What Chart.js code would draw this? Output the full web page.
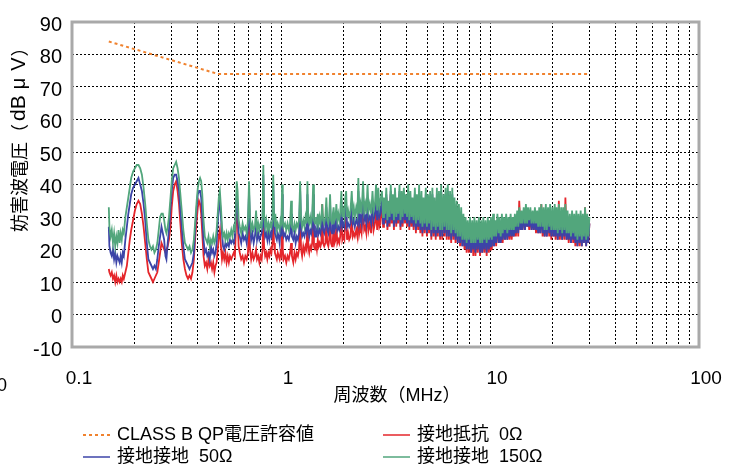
<!DOCTYPE html>
<html>
<head>
<meta charset="utf-8">
<script src="https://cdn.jsdelivr.net/npm/chart.js@4.4.1/dist/chart.umd.min.js"></script>
<style>
  html, body { margin: 0; padding: 0; background: #fff; }
  #noiseChart { display: block; }
</style>
</head>
<body>
<canvas id="noiseChart" width="739" height="464"></canvas>
<script>
// frequency grid (MHz) shared by the three measured curves
const freqMHz = [
  0.150, 0.151, 0.153, 0.155, 0.157, 0.159, 0.161, 0.163, 0.165, 0.167,
  0.169, 0.171, 0.173, 0.175, 0.177, 0.180, 0.183, 0.186, 0.189, 0.192,
  0.196, 0.200, 0.204, 0.208, 0.212, 0.216, 0.220, 0.224, 0.228, 0.232,
  0.236, 0.240, 0.244, 0.248, 0.252, 0.256, 0.260, 0.264, 0.268, 0.272,
  0.276, 0.280, 0.283, 0.287, 0.291, 0.296, 0.300, 0.305, 0.310, 0.315,
  0.320, 0.325, 0.330, 0.335, 0.341, 0.347, 0.353, 0.359, 0.365, 0.371,
  0.377, 0.383, 0.389, 0.395, 0.400, 0.405, 0.410, 0.415, 0.420, 0.426,
  0.432, 0.438, 0.444, 0.450, 0.456, 0.462, 0.468, 0.474, 0.480, 0.486,
  0.492, 0.498, 0.504, 0.510, 0.516, 0.522, 0.528, 0.535, 0.542, 0.549,
  0.556, 0.563, 0.570, 0.578, 0.586, 0.594, 0.602, 0.608, 0.614, 0.620,
  0.627,
  0.635, 0.645, 0.655, 0.665, 0.675, 0.685, 0.695, 0.703, 0.711, 0.720,
  0.730, 0.740, 0.750, 0.760, 0.768, 0.778, 0.788, 0.798, 0.808, 0.816,
  0.823, 0.830, 0.840, 0.850, 0.860, 0.870, 0.880, 0.890, 0.900, 0.910,
  0.918, 0.926, 0.935, 0.945, 0.955, 0.965, 0.975, 0.985, 0.995, 1.005,
  1.012, 1.020, 1.030, 1.045, 1.060, 1.075, 1.090, 1.105, 1.118, 1.128,
  1.145, 1.160, 1.175, 1.190, 1.205, 1.220, 1.235, 1.248, 1.262, 1.278,
  1.295, 1.310, 1.325, 1.338, 1.350, 1.365, 1.380, 1.395, 1.410, 1.425,
  1.438, 1.455, 1.470, 1.485, 1.500, 1.515, 1.530, 1.545, 1.560, 1.575,
  1.590, 1.610, 1.630, 1.648, 1.665, 1.685, 1.700, 1.717, 1.735, 1.755,
  1.770, 1.785, 1.805, 1.825, 1.840, 1.860, 1.880, 1.900, 1.920, 1.945,
  1.965, 1.985, 2.010, 2.030, 2.050, 2.070, 2.095, 2.120, 2.150, 2.180,
  2.205, 2.230, 2.255, 2.290, 2.320, 2.345, 2.370, 2.400, 2.430, 2.470,
  2.500, 2.530, 2.560, 2.595, 2.625, 2.660, 2.700, 2.740, 2.775, 2.815,
  2.850, 2.885, 2.920, 2.955, 2.990,
  3.04, 3.08, 3.11, 3.15, 3.19, 3.23, 3.27, 3.31, 3.35, 3.39,
  3.43, 3.47, 3.51, 3.56, 3.60, 3.64, 3.69, 3.73, 3.78, 3.82,
  3.87, 3.92, 3.96, 4.01, 4.06, 4.11, 4.16, 4.21, 4.26, 4.31,
  4.37, 4.42, 4.47, 4.53, 4.58, 4.64, 4.70, 4.75, 4.81, 4.87,
  4.93, 4.99, 5.05, 5.11, 5.17, 5.24, 5.30, 5.37, 5.43, 5.50,
  5.57, 5.63, 5.70, 5.77, 5.84, 5.91, 5.99, 6.06, 6.13, 6.21,
  6.28, 6.36, 6.44, 6.52, 6.60, 6.68, 6.76, 6.84, 6.93, 7.01,
  7.10, 7.19, 7.28, 7.37, 7.46, 7.55, 7.64, 7.73, 7.82, 7.92,
  8.02, 8.12, 8.22, 8.32, 8.42, 8.52, 8.63, 8.74, 8.85, 8.96,
  9.07, 9.18, 9.29, 9.40, 9.52, 9.64, 9.76, 9.88, 9.97, 10.05,
  10.1, 10.2, 10.35, 10.45, 10.6, 10.7, 10.85, 11.0, 11.1, 11.25,
  11.4, 11.5, 11.65, 11.8, 11.95, 12.1, 12.25, 12.4, 12.55, 12.7,
  12.85, 13.0, 13.15, 13.3, 13.5, 13.65, 13.8, 14.0, 14.15, 14.3,
  14.5, 14.7, 14.85, 15.05, 15.2, 15.4, 15.6, 15.8, 16.0, 16.2,
  16.4, 16.6, 16.8, 17.0, 17.2, 17.4, 17.6, 17.85, 18.05, 18.25,
  18.5, 18.7, 18.95, 19.2, 19.4, 19.65, 19.9, 20.15, 20.4, 20.6,
  20.85, 21.1, 21.35, 21.6, 21.9, 22.15, 22.4, 22.7, 22.95, 23.25,
  23.5, 23.8, 24.1, 24.4, 24.7, 25.0, 25.3, 25.6, 25.9, 26.2,
  26.5, 26.85, 27.15, 27.5, 27.8, 28.15, 28.5, 28.85, 29.2, 29.55,
  29.9
];

// 接地抵抗 0Ω (red)
const gnd0 = [
  14, 13, 12, 13, 11, 12, 10, 12, 10, 11,
  10, 11, 10, 12, 11, 13, 15, 19, 23, 26,
  29, 32, 34, 35, 34, 31, 27, 22, 17, 13,
  12, 11, 10, 11, 12, 13, 16, 19, 22, 21,
  20, 19, 20, 21, 23, 27, 33, 38, 40, 41,
  38, 34, 28, 22, 17, 14, 12, 11, 12, 11,
  13, 17, 24, 29, 33, 35, 34, 31, 25, 18,
  15, 16, 14, 17, 15, 16, 14, 16, 13, 15,
  16, 20, 24, 26, 21, 17, 19, 17, 19, 16,
  18, 16, 18, 17, 18, 19, 18, 26, 35, 30,
  21,
  19, 17, 18, 16, 18, 17, 19, 28, 20, 17,
  19, 17, 18, 20, 17, 18, 16, 18, 17, 20,
  32, 21, 18, 19, 17, 19, 18, 20, 19, 22,
  30, 22, 19, 18, 17, 19, 18, 17, 19, 18,
  28, 20, 17, 18, 16, 18, 17, 19, 22, 18,
  16, 19, 17, 19, 18, 20, 30, 20, 18, 21,
  19, 21, 20, 31, 21, 19, 21, 20, 22, 32,
  21, 20, 22, 20, 23, 21, 22, 21, 22, 34,
  22, 21, 22, 28, 22, 21, 23, 30, 22, 21,
  23, 27, 22, 23, 28, 22, 23, 22, 24, 31,
  23, 24, 23, 30, 31, 23, 25, 23, 24, 31,
  24, 25, 24, 26, 24, 33, 25, 27, 25, 33,
  26, 27, 25, 33, 26, 28, 25, 32, 26, 28,
  33, 26, 32, 27, 28,
  35, 27, 33, 28, 36, 26, 32, 27, 37, 28,
  34, 26, 36, 27, 33, 28, 37, 26, 35, 27,
  36, 28, 34, 27, 37, 26, 35, 27, 33, 26,
  36, 25, 34, 26, 37, 25, 35, 24, 33, 25,
  36, 24, 34, 25, 35, 23, 36, 24, 33, 23,
  36, 24, 35, 23, 37, 23, 34, 24, 36, 23,
  37, 23, 35, 22, 36, 23, 33, 22, 32, 22,
  31, 21, 30, 21, 28, 20, 27, 19, 26, 19,
  27, 19, 26, 18, 27, 18, 26, 19, 27, 18,
  26, 19, 27, 19, 26, 18, 27, 19, 26, 20,
  28, 20, 28, 21, 27, 21, 28, 22, 28, 22,
  28, 22, 28, 23, 29, 23, 28, 23, 29, 23,
  28, 24, 29, 24, 30, 24, 35, 26, 30, 26,
  31, 26, 31, 27, 31, 26, 31, 26, 30, 26,
  31, 25, 30, 25, 31, 25, 34, 24, 31, 24,
  31, 24, 31, 24, 32, 23, 31, 24, 31, 23,
  31, 23, 35, 23, 30, 23, 31, 23, 36, 23,
  30, 22, 29, 22, 30, 22, 29, 21, 30, 21,
  29, 21, 30, 21, 29, 22, 33, 21, 29, 22,
  28
];

// 接地接地 50Ω (blue)
const gnd50 = [
  27, 21, 19, 18, 20, 17, 19, 16, 18, 17,
  16, 18, 16, 19, 18, 23, 27, 31, 34, 37,
  39, 40, 41, 42, 40, 38, 34, 29, 22, 17,
  16, 15, 14, 15, 14, 17, 21, 24, 27, 25,
  23, 18, 17, 22, 26, 33, 38, 42, 43, 43,
  41, 38, 32, 27, 21, 17, 16, 15, 14, 15,
  16, 19, 27, 33, 37, 38, 38, 36, 30, 23,
  19, 20, 18, 19, 17, 21, 19, 20, 18, 19,
  22, 28, 33, 35, 30, 25, 21, 20, 22, 21,
  22, 21, 23, 22, 23, 22, 24, 30, 37, 34,
  25,
  24, 22, 25, 23, 24, 22, 26, 38, 27, 23,
  25, 22, 24, 28, 23, 25, 23, 24, 25, 27,
  43, 28, 24, 25, 23, 26, 23, 25, 24, 27,
  40, 28, 25, 24, 23, 25, 24, 22, 26, 24,
  37, 26, 24, 25, 23, 24, 23, 25, 31, 24,
  23, 25, 22, 24, 23, 25, 38, 26, 24, 25,
  24, 26, 25, 37, 26, 24, 26, 25, 27, 37,
  26, 24, 26, 25, 28, 25, 26, 25, 27, 31,
  26, 25, 27, 33, 26, 25, 27, 34, 26, 25,
  27, 30, 26, 27, 31, 26, 27, 26, 27, 35,
  27, 28, 27, 33, 34, 27, 28, 27, 28, 34,
  28, 29, 27, 29, 28, 38, 28, 30, 28, 37,
  29, 30, 28, 36, 29, 30, 28, 35, 29, 31,
  36, 29, 35, 30, 31,
  36, 28, 34, 29, 37, 27, 33, 28, 38, 29,
  35, 27, 37, 28, 34, 29, 38, 27, 36, 28,
  37, 29, 35, 28, 38, 27, 36, 28, 34, 27,
  37, 26, 35, 27, 38, 26, 36, 25, 34, 26,
  37, 25, 35, 26, 36, 24, 37, 25, 34, 24,
  37, 25, 36, 24, 38, 24, 35, 25, 37, 24,
  38, 24, 36, 23, 37, 24, 34, 23, 33, 22,
  32, 22, 31, 21, 29, 21, 28, 20, 27, 20,
  28, 19, 27, 20, 28, 19, 27, 20, 28, 19,
  27, 19, 28, 20, 27, 19, 28, 20, 27, 21,
  28, 21, 29, 21, 27, 22, 29, 22, 28, 22,
  29, 23, 28, 23, 29, 23, 28, 24, 29, 24,
  28, 24, 29, 25, 30, 25, 31, 26, 30, 26,
  31, 26, 32, 27, 31, 27, 31, 26, 30, 26,
  31, 26, 30, 25, 31, 25, 32, 25, 31, 24,
  32, 24, 31, 25, 32, 24, 31, 24, 32, 24,
  31, 23, 32, 24, 31, 23, 31, 24, 32, 23,
  30, 23, 29, 22, 30, 23, 29, 22, 30, 21,
  29, 22, 30, 21, 29, 22, 31, 21, 29, 22,
  28
];

// 接地接地 150Ω (green)
const gnd150 = [
  33, 27, 24, 26, 22, 25, 21, 24, 22, 26,
  22, 25, 23, 26, 25, 30, 33, 36, 39, 42,
  44, 45, 46, 46, 45, 43, 39, 34, 28, 23,
  21, 20, 21, 19, 20, 22, 26, 30, 31, 31,
  29, 26, 25, 27, 30, 36, 41, 45, 46, 47,
  45, 42, 37, 32, 26, 22, 21, 20, 21, 19,
  20, 23, 29, 35, 39, 41, 42, 41, 37, 29,
  24, 23, 22, 24, 21, 23, 22, 24, 22, 23,
  26, 31, 36, 38, 33, 27, 24, 25, 23, 25,
  23, 25, 24, 26, 24, 27, 26, 33, 41, 38,
  29,
  27, 25, 28, 26, 27, 25, 29, 41, 30, 26,
  28, 26, 27, 32, 26, 28, 26, 28, 27, 30,
  46, 31, 27, 29, 26, 28, 26, 28, 27, 29,
  43, 31, 27, 29, 26, 28, 27, 26, 29, 28,
  40, 29, 27, 28, 26, 28, 26, 28, 35, 27,
  26, 28, 26, 28, 27, 29, 41, 29, 27, 29,
  27, 30, 28, 41, 29, 28, 30, 28, 30, 40,
  29, 28, 30, 28, 31, 28, 30, 28, 30, 34,
  29, 28, 30, 36, 29, 28, 30, 37, 29, 28,
  31, 33, 29, 30, 34, 29, 31, 29, 31, 38,
  30, 32, 30, 36, 38, 30, 32, 30, 32, 38,
  31, 33, 30, 33, 31, 42, 31, 34, 31, 41,
  32, 34, 31, 40, 32, 34, 31, 38, 32, 34,
  40, 32, 39, 33, 35,
  38, 30, 36, 31, 39, 29, 35, 30, 40, 31,
  37, 29, 39, 30, 36, 31, 40, 29, 38, 30,
  39, 31, 37, 30, 40, 29, 38, 30, 36, 29,
  39, 28, 37, 29, 40, 28, 38, 27, 36, 28,
  39, 27, 37, 28, 38, 26, 39, 27, 36, 26,
  39, 27, 38, 26, 40, 26, 37, 27, 39, 26,
  40, 26, 38, 25, 39, 26, 36, 25, 35, 24,
  34, 24, 33, 23, 31, 23, 30, 22, 29, 23,
  30, 22, 29, 22, 30, 22, 29, 23, 30, 22,
  29, 22, 30, 23, 29, 22, 30, 23, 29, 24,
  30, 23, 31, 24, 29, 24, 31, 25, 30, 24,
  31, 25, 30, 26, 31, 25, 30, 26, 31, 26,
  30, 26, 31, 27, 32, 27, 33, 28, 32, 28,
  33, 28, 34, 28, 33, 29, 33, 28, 32, 28,
  33, 28, 32, 27, 33, 27, 34, 27, 33, 26,
  34, 26, 33, 27, 34, 26, 33, 26, 34, 26,
  33, 25, 34, 26, 33, 25, 33, 26, 34, 25,
  32, 25, 31, 24, 32, 25, 31, 24, 32, 23,
  31, 24, 32, 23, 31, 24, 33, 23, 31, 24,
  30
];

// CLASS B QP limit
const limitFreq = [0.15, 0.5, 30];
const limitQP = [84, 74, 74];

const xTickLabels = [0.1, 1, 10, 100];
const yMin = -10, yMax = 90, yStep = 10;

const FONT = '"Liberation Sans", "Noto Sans CJK JP", sans-serif';
const CJK = '"Noto Sans CJK JP", "Liberation Sans", sans-serif';

function pts(xs, ys) {
  return xs.map((x, i) => ({ x: x, y: ys[i] }));
}

// grid lines at 1..9 of every decade
const xGridTicks = [];
[0.1, 1, 10].forEach(d => { for (let k = 1; k < 10; k++) xGridTicks.push(+(k * d).toFixed(3)); });
xGridTicks.push(100);

const legendSpots = [
  { x: 83, y: 435 }, { x: 383, y: 435 },
  { x: 83, y: 457 }, { x: 383, y: 457 }
];

// y title pieces, drawn one after another up the left side
const yTitleParts = [
  { t: '妨害波電圧（', f: '18px ' + CJK, gap: 0 },
  { t: 'dB', f: '21px ' + FONT, gap: 3 },
  { t: 'μ', f: '20px ' + FONT, gap: 6 },
  { t: 'V', f: '20px ' + FONT, gap: 7 },
  { t: '）', f: '18px ' + CJK, gap: 1 }
];

const decor = {
  id: 'decor',
  afterDraw(chart) {
    const c = chart.ctx, a = chart.chartArea;
    c.save();
    c.setLineDash([]);
    c.strokeStyle = '#a9a9a9';
    c.lineWidth = 3;
    c.strokeRect(a.left, a.top, a.right - a.left, a.bottom - a.top);

    c.fillStyle = '#000';
    c.font = '18px ' + FONT;
    c.textBaseline = 'middle';
    c.textAlign = 'center';
    c.fillText('周波数（MHz）', 397, 396);

    c.save();
    c.translate(19, 232);
    c.rotate(-Math.PI / 2);
    c.textAlign = 'left';
    let pos = 0;
    yTitleParts.forEach(p => {
      c.font = p.f;
      pos += p.gap;
      c.fillText(p.t, pos, 0);
      pos += c.measureText(p.t).width;
    });
    c.restore();

    c.font = '18px ' + FONT;
    c.textAlign = 'right';
    c.fillText('0', 7, 386);

    // legend, two columns
    c.textAlign = 'left';
    chart.data.datasets.forEach((ds, i) => {
      const p = legendSpots[i];
      c.beginPath();
      c.strokeStyle = ds.borderColor;
      c.lineWidth = ds.borderDash ? 2 : 1.5;
      c.setLineDash(ds.borderDash || []);
      c.moveTo(p.x, p.y);
      c.lineTo(p.x + 27, p.y);
      c.stroke();
      c.setLineDash([]);
      c.fillStyle = '#000';
      c.fillText(ds.label, p.x + 34, p.y);
    });
    c.restore();
  }
};

new Chart(document.getElementById('noiseChart'), {
  type: 'line',
  data: {
    datasets: [{
      label: 'CLASS B QP電圧許容値',
      data: pts(limitFreq, limitQP),
      borderColor: '#f0822e',
      borderWidth: 2,
      borderDash: [3, 3],
      pointRadius: 0,
      order: 0
    }, {
      label: '接地抵抗  0Ω',
      data: pts(freqMHz, gnd0),
      borderColor: '#e5262b',
      borderWidth: 1.8,
      pointRadius: 0,
      order: 3
    }, {
      label: '接地接地  50Ω',
      data: pts(freqMHz, gnd50),
      borderColor: '#3c44a8',
      borderWidth: 1.8,
      pointRadius: 0,
      order: 2
    }, {
      label: '接地接地  150Ω',
      data: pts(freqMHz, gnd150),
      borderColor: '#52a67c',
      borderWidth: 1.8,
      pointRadius: 0,
      order: 1
    }]
  },
  options: {
    responsive: false,
    animation: false,
    layout: { padding: { left: 0, right: 40, top: 15, bottom: 0 } },
    plugins: { legend: { display: false }, tooltip: { enabled: false } },
    scales: {
      x: {
        type: 'logarithmic',
        min: 0.1,
        max: 100,
        afterBuildTicks: (s) => { s.ticks = xGridTicks.map(v => ({ value: v })); },
        afterFit: (s) => { s.height = 117; },
        ticks: {
          autoSkip: false,
          maxRotation: 0,
          padding: 20,
          labelOffset: 7,
          color: '#000',
          font: { family: FONT, size: 19 },
          callback: (v) => xTickLabels.includes(v) ? String(v) : ''
        },
        grid: { color: '#000', lineWidth: 1, drawTicks: false },
        border: { display: false, dash: [2, 2] }
      },
      y: {
        min: yMin,
        max: yMax,
        afterFit: (s) => { s.width = 72; },
        ticks: {
          stepSize: yStep,
          padding: 10,
          labelOffset: 3,
          color: '#000',
          font: { family: FONT, size: 20 }
        },
        grid: { color: '#000', lineWidth: 1, drawTicks: false },
        border: { display: false, dash: [2, 2] }
      }
    }
  },
  plugins: [decor]
});
</script>
</body>
</html>
